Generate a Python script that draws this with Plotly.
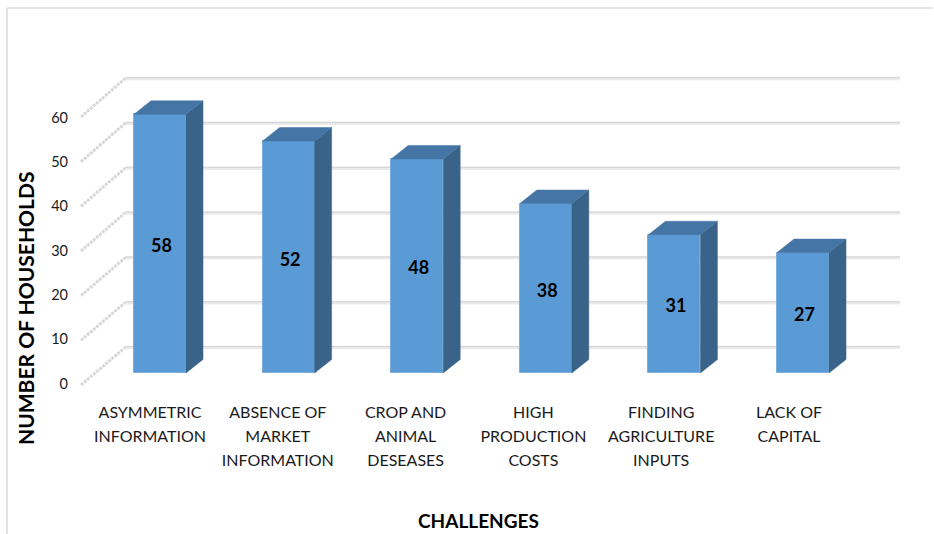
import plotly.graph_objects as go

categories = [
    "ASYMMETRIC<br>INFORMATION",
    "ABSENCE OF<br>MARKET<br>INFORMATION",
    "CROP AND<br>ANIMAL<br>DESEASES",
    "HIGH<br>PRODUCTION<br>COSTS",
    "FINDING<br>AGRICULTURE<br>INPUTS",
    "LACK OF<br>CAPITAL",
]
households = [58, 52, 48, 38, 31, 27]
y_ticks = [0, 10, 20, 30, 40, 50, 60]

FONT = "Lato"
W, H = 934, 534
L, R, T, B = 69, 900, 60, 394   # plot box in page pixels
PX_X = 128.6                    # pixels per category
PX_Y = 4.46                     # pixels per household
X0_PX, Y0_PX = 160, 373         # page pixel of first bar centre / bar base

xr = [(L - X0_PX) / PX_X, (R - X0_PX) / PX_X]
yr = [(Y0_PX - B) / PX_Y, (Y0_PX - T) / PX_Y]
# the tick-label axis sits a little below the bars
TICK_PX_Y = 4.433
TICK0_PX = 383.5
y2r = [(TICK0_PX - B) / TICK_PX_Y, (TICK0_PX - T) / TICK_PX_Y]

bar_w = 52 / PX_X
dep_x = 17 / PX_X
dep_y = 13.5 / PX_Y

idx = list(range(len(categories)))
fig = go.Figure()

# walls: back gridlines and slanted left-wall lines
shapes = []
back0 = (Y0_PX - 347.5) / PX_Y
back_scale = 4.483 / PX_Y
front0 = (Y0_PX - 385) / PX_Y
front_scale = 4.467 / PX_Y
x_left_back = (125 - X0_PX) / PX_X
x_left_front = (81 - X0_PX) / PX_X
for v in y_ticks:
    yb = back0 + back_scale * v
    yf = front0 + front_scale * v
    shapes.append(dict(type="line", layer="below", xref="x", yref="y", x0=x_left_back, x1=xr[1], y0=yb, y1=yb,
                       line=dict(color="#ebebeb", width=3.5)))
    shapes.append(dict(type="line", layer="below", xref="x", yref="y", x0=x_left_back, x1=xr[1], y0=yb + 0.2, y1=yb + 0.2,
                       line=dict(color="#d4d4d4", width=1)))
    shapes.append(dict(type="line", layer="below", xref="x", yref="y", x0=x_left_front, x1=x_left_back, y0=yf, y1=yb,
                       line=dict(color="#d8d8d8", width=3, dash="3px,1px")))
# outer chart frame
shapes.append(dict(type="line", xref="paper", yref="paper", x0=(7 - L) / (R - L), x1=(7 - L) / (R - L),
                   y0=(B - H) / (B - T), y1=(B - 8) / (B - T), line=dict(color="#e4e4e4", width=2)))
shapes.append(dict(type="line", xref="paper", yref="paper", x0=(7 - L) / (R - L), x1=(933 - L) / (R - L),
                   y0=(B - 8) / (B - T), y1=(B - 8) / (B - T), line=dict(color="#e4e4e4", width=2)))

# front faces
fig.add_trace(go.Bar(
    x=idx, y=households, width=bar_w,
    marker=dict(color="#5b9bd5", line=dict(color="#7aaedd", width=1)),
    hoverinfo="skip", showlegend=False,
))

# side and top faces, derived from each bar's value
for i, v in zip(idx, households):
    xr_edge = i + bar_w / 2
    xl_edge = i - bar_w / 2
    fig.add_trace(go.Scatter(
        x=[xr_edge, xr_edge + dep_x, xr_edge + dep_x, xr_edge, xr_edge],
        y=[0, dep_y, v + dep_y, v, 0],
        mode="lines", fill="toself", fillcolor="#3a6389",
        line=dict(color="#3a6389", width=0.5), hoverinfo="skip", showlegend=False,
    ))
    fig.add_trace(go.Scatter(
        x=[xl_edge, xl_edge + dep_x, xr_edge + dep_x, xr_edge, xl_edge],
        y=[v, v + dep_y, v + dep_y, v, v],
        mode="lines", fill="toself", fillcolor="#4575a5",
        line=dict(color="#4575a5", width=0.5), hoverinfo="skip", showlegend=False,
    ))

# value labels in the middle of each bar
fig.add_trace(go.Scatter(
    x=[i + 1.5 / PX_X for i in idx], y=[v / 2 - 4 / PX_Y for v in households],
    mode="text", text=[str(v) for v in households], textposition="middle center",
    textfont=dict(family=FONT, size=18, color="#000000", weight="bold"),
    hoverinfo="skip", showlegend=False,
))

# invisible carrier for the value-axis labels
fig.add_trace(go.Scatter(x=[idx[0]] * len(y_ticks), y=y_ticks, yaxis="y2", mode="markers",
                         marker=dict(opacity=0), hoverinfo="skip", showlegend=False))

label_x = [i * (127.8 / PX_X) - 10 / PX_X for i in idx]
label_text = ['<span style="font-size:16px">%s</span>' % c.replace("<br>", '</span><br><span style="font-size:16px">')
              for c in categories]

fig.update_layout(
    width=W, height=H, autosize=False,
    margin=dict(l=L, r=W - R, t=T, b=H - B, pad=0),
    paper_bgcolor="white", plot_bgcolor="rgba(0,0,0,0)",
    showlegend=False, bargap=0,
    font=dict(family=FONT, color="#1a1a1a"),
    shapes=shapes,
    xaxis=dict(range=xr, tickmode="array", tickvals=label_x, ticktext=label_text,
               tickfont=dict(family=FONT, size=18.8, color="#1a1a1a"), tickangle=0,
               showgrid=False, zeroline=False, showline=False, ticks="outside", ticklen=0,
               tickcolor="rgba(0,0,0,0)", automargin=False),
    yaxis=dict(range=yr, showticklabels=False, showgrid=False, zeroline=False, showline=False, ticks=""),
    yaxis2=dict(range=y2r, overlaying="y", side="left", tickmode="array", tickvals=y_ticks,
                ticktext=[str(v) for v in y_ticks], tickfont=dict(family=FONT, size=14.5, color="#1a1a1a"),
                showgrid=False, zeroline=False, showline=False, ticks="", automargin=False),
    annotations=[
        dict(text="<b>CHALLENGES</b>", xref="paper", yref="paper", x=(478 - L) / (R - L), y=(B - 520) / (B - T),
             xanchor="center", yanchor="middle", showarrow=False, font=dict(family=FONT, size=19, color="#000000")),
        dict(text="<b>NUMBER OF HOUSEHOLDS</b>", xref="paper", yref="paper", x=(25 - L) / (R - L), y=(B - 309) / (B - T),
             xanchor="center", yanchor="middle", textangle=-90, showarrow=False,
             font=dict(family=FONT, size=21, color="#000000")),
    ],
)

fig.write_html("out.html", config={"displayModeBar": False},
               post_script="document.body.style.margin='0';document.documentElement.style.overflow='hidden';")
